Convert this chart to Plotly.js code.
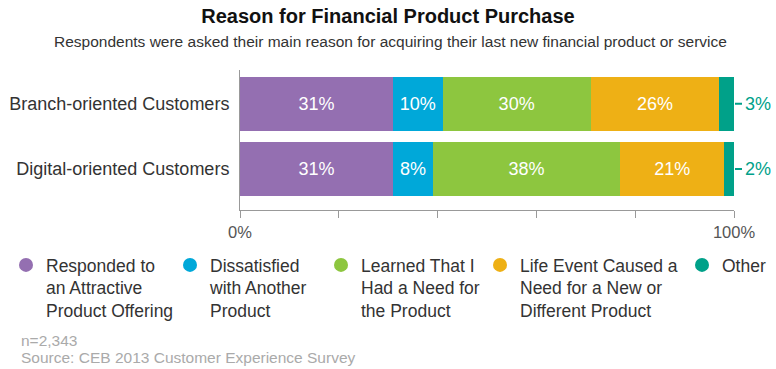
<!DOCTYPE html>
<html><head><meta charset="utf-8">
<script src="https://cdn.plot.ly/plotly-3.0.1.min.js"></script>
<style>html,body{margin:0;padding:0;background:#fff}#chart{width:776px;height:369px}</style>
</head><body><div id="chart"></div>
<script>
const categories = ['Branch-oriented Customers', 'Digital-oriented Customers'];
const seriesNames = ['Responded to<br>an Attractive<br>Product Offering', 'Dissatisfied<br>with Another<br>Product', 'Learned That I<br>Had a Need for<br>the Product', 'Life Event Caused a<br>Need for a New or<br>Different Product', 'Other'];
const responded = [31, 31];
const dissatisfied = [10, 8];
const learned = [30, 38];
const lifeEvent = [26, 21];
const other = [3, 2];
const colors = ['#946fb1', '#00a8d9', '#8dc63f', '#eeb015', '#00a189'];
const xTickVals = [0, 20, 40, 60, 80, 100];
const xTickText = ['0%', '', '', '', '', '100%'];

const seriesVals = [responded, dissatisfied, learned, lifeEvent, other];
const font = 'Liberation Sans, Arial, sans-serif';
const legendIds = ['legend', 'legend2', 'legend3', 'legend4', 'legend5'];
const legendLeft = [6, 170, 321, 480, 682];
const traces = [];
seriesVals.forEach((vals, i) => {
  const inside = i < 4;
  traces.push({
    type: 'bar', orientation: 'h', y: categories, x: vals, name: seriesNames[i],
    marker: {color: colors[i], line: {width: 0}}, showlegend: false,
    text: inside ? vals.map(v => v + '%') : null,
    textposition: inside ? 'inside' : 'none', insidetextanchor: 'middle',
    textfont: {color: '#ffffff', size: 18, family: font},
    hoverinfo: 'none'
  });
});
seriesVals.forEach((vals, i) => {
  traces.push({
    type: 'scatter', mode: 'markers', x: [null], y: [null], name: seriesNames[i],
    marker: {color: colors[i], size: 14, symbol: 'circle'}, showlegend: true, hoverinfo: 'none',
    legend: legendIds[i]
  });
});

const annotations = [];
categories.forEach((c, j) => {
  const total = seriesVals.reduce((s, v) => s + v[j], 0);
  annotations.push({
    x: total, y: c, xref: 'x', yref: 'y', text: other[j] + '%', showarrow: true,
    ax: 8, ay: 0, axref: 'pixel', ayref: 'pixel', arrowhead: 0, arrowwidth: 2,
    arrowcolor: colors[4], standoff: 1, xanchor: 'left', borderpad: 2,
    font: {color: colors[4], size: 18, family: font}
  });
});
annotations.push({
  xref: 'paper', yref: 'paper', x: (390 - 240) / 494, y: 1 + (70 - 41) / 140, xanchor: 'center', yanchor: 'middle',
  text: 'Respondents were asked their main reason for acquiring their last new financial product or service',
  showarrow: false, font: {size: 15.5, color: '#333', family: font}
});
annotations.push({
  xref: 'paper', yref: 'paper', x: (19 - 240) / 494, y: -(340 - 210) / 140, xanchor: 'left', yanchor: 'middle',
  text: 'n=2,343', showarrow: false, font: {size: 15.5, color: '#aaaaaa', family: font}
});
annotations.push({
  xref: 'paper', yref: 'paper', x: (19 - 240) / 494, y: -(357 - 210) / 140, xanchor: 'left', yanchor: 'middle',
  text: 'Source: CEB 2013 Customer Experience Survey', showarrow: false, font: {size: 15.5, color: '#aaaaaa', family: font}
});

const layout = {
  width: 776, height: 369,
  margin: {l: 240, r: 42, t: 70, b: 159, autoexpand: false},
  paper_bgcolor: '#fff', plot_bgcolor: '#fff',
  barmode: 'stack', bargap: 0.17,
  font: {family: font, color: '#333'},
  title: {text: '<b>Reason for Financial Product Purchase</b>', x: 0.5, xref: 'container', xanchor: 'center',
          y: 1 - 16 / 369, yref: 'container', yanchor: 'middle', font: {size: 20, color: '#111', family: font}},
  xaxis: {range: [0, 100], tickvals: xTickVals, ticktext: xTickText, ticks: 'outside', ticklen: 7,
          tickcolor: '#999', showline: true, linecolor: '#999', linewidth: 1, showgrid: false, zeroline: false,
          tickfont: {size: 16.5, color: '#555', family: font}, fixedrange: true, automargin: false},
  yaxis: {type: 'category', range: [1.63, -0.52], showline: true, linecolor: '#999', linewidth: 1,
          showgrid: false, zeroline: false, ticks: '', ticklabelstandoff: 6,
          tickfont: {size: 18, color: '#333', family: font}, fixedrange: true, automargin: false},
  showlegend: true,
  annotations: annotations
};
legendIds.forEach((id, i) => {
  layout[id] = {orientation: 'v', xref: 'container', yref: 'container', x: legendLeft[i] / 776, y: 1 - 247 / 369,
    xanchor: 'left', yanchor: 'top', valign: 'top', font: {size: 17.5, color: '#333', family: font},
    bgcolor: 'rgba(0,0,0,0)', borderwidth: 0, itemclick: false, itemdoubleclick: false};
});
Plotly.newPlot('chart', traces, layout, {displayModeBar: false, staticPlot: true});
</script></body></html>
